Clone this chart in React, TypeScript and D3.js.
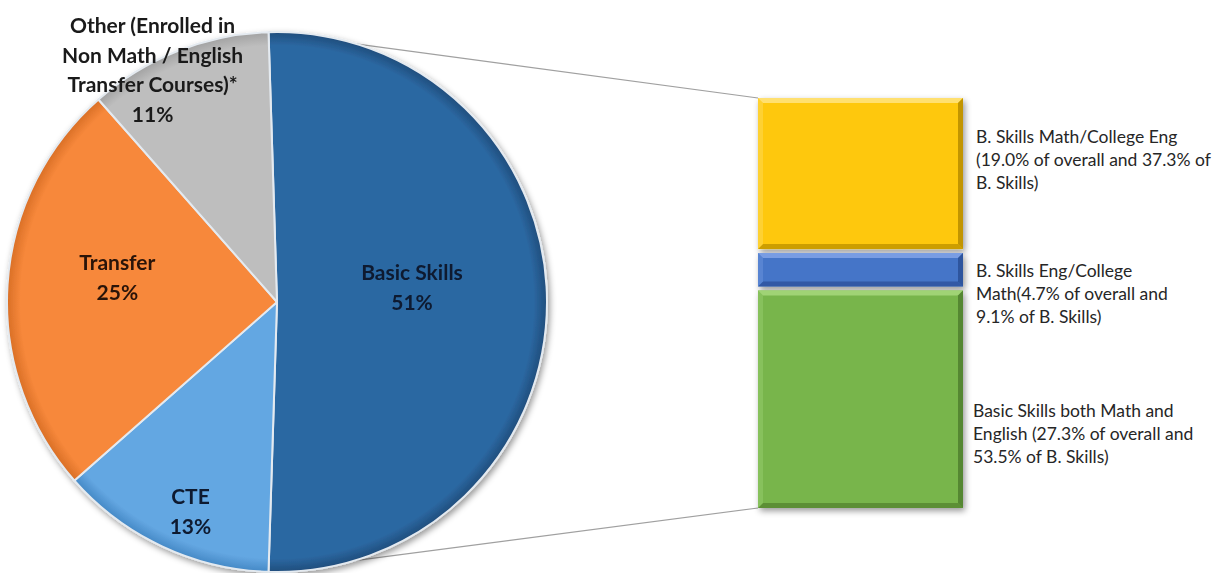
import React from "react";
import * as d3 from "d3";

// ---- data ----
const pieCategories = ["Basic Skills", "CTE", "Transfer", "Other (Enrolled in Non Math / English Transfer Courses)*"];
const pieValues = [51, 13, 25, 11];
const pieLabelLines = [["Basic Skills"], ["CTE"], ["Transfer"], ["Other (Enrolled in", "Non Math / English", "Transfer Courses)*"]];
const barCategories = ["B. Skills Math/College Eng", "B. Skills Eng/College Math", "Basic Skills both Math and English"];
const barShareOfBasic = [37.3, 9.1, 53.5];
const barShareOfOverall = [19.0, 4.7, 27.3];
const barLabelLines = [
  ["B. Skills Math/College Eng", "(19.0% of overall and 37.3% of", "B. Skills)"],
  ["B. Skills Eng/College", "Math(4.7% of overall and", "9.1% of B. Skills)"],
  ["Basic Skills both Math and", "English (27.3% of overall and", "53.5% of B. Skills)"],
];

// ---- styles / layout ----
const W = 1218, H = 573;
const cx = 277, cy = 302, R = 270;
const pieColors = ["#2c68a2", "#64a7e2", "#f7883b", "#bebebe"];
const pieDark = ["#1f4d7c", "#4589c6", "#d96f26", "#a2a2a2"];
const pieLabelColors = ["#0e1a30", "#0e1a30", "#2a1409", "#1a1a1a"];
const labelRadius = [0.5, 0.84, 0.6, 0.99];
const labelDx = [0, 10, 2, -26];
const labelDy = [-14, 5, -14, 17];
const barColors = ["#fec80c", "#4574c8", "#78b54b"];
const barLight = ["#ffe27a", "#7ea2e6", "#a4d67a"];
const barDarkC = ["#b78c00", "#2a4f96", "#4e7f2c"];
const barX0 = 758, barX1 = 963, barY0 = 98, barY1 = 508;
const FONT = "Lato, 'Open Sans', sans-serif";

export default function App() {
  const total = d3.sum(pieValues);
  const half = (pieValues[0] / total) * Math.PI;
  const start = Math.PI / 2 - half;
  const pie = d3.pie<number>().sort(null).value((d) => d).startAngle(start).endAngle(start + 2 * Math.PI);
  const arcs = pie(pieValues);
  const arcGen = d3.arc<d3.PieArcDatum<number>>().innerRadius(0).outerRadius(R);

  const y = d3.scaleLinear().domain([0, d3.sum(barShareOfBasic)]).range([barY0, barY1]);
  let acc = 0;
  const segs = barShareOfBasic.map((v, i) => {
    const s = { i, y0: y(acc), y1: y(acc + v) };
    acc += v;
    return s;
  });
  const gap = 2;

  const bs = arcs[0];
  const pt = (a: number) => [cx + R * Math.sin(a), cy - R * Math.cos(a)];
  const pTop = pt(bs.startAngle);
  const pBot = pt(bs.endAngle);

  const barLabelY = [143, 277, 417];
  const lineH = 23;

  return (
    <svg width={W} height={H} style={{ position: "absolute", left: 0, top: 0, background: "#fff" }} fontFamily={FONT}>
      <defs>
        <filter id="shadow" x="-10%" y="-10%" width="130%" height="130%">
          <feDropShadow dx="2" dy="3" stdDeviation="3" floodColor="#000" floodOpacity="0.4" />
        </filter>
        {pieColors.map((c, i) => (
          <radialGradient key={i} id={`pg${i}`} cx={0} cy={0} r={R} gradientUnits="userSpaceOnUse">
            <stop offset="0" stopColor={c} />
            <stop offset="0.95" stopColor={c} />
            <stop offset="1" stopColor={pieDark[i]} />
          </radialGradient>
        ))}
      </defs>

      {/* connector lines */}
      <line x1={pTop[0]} y1={pTop[1]} x2={barX0} y2={barY0} stroke="#a0a0a0" strokeWidth={1.2} />
      <line x1={pBot[0]} y1={pBot[1]} x2={barX0} y2={barY1} stroke="#a0a0a0" strokeWidth={1.2} />

      {/* pie */}
      <g filter="url(#shadow)">
        {arcs.map((a, i) => (
          <path key={i} d={arcGen(a) as string} transform={`translate(${cx},${cy})`} fill={`url(#pg${i})`} stroke="#e4eaf0" strokeWidth={2} strokeLinejoin="round" />
        ))}
      </g>

      {/* pie labels */}
      {arcs.map((a, i) => {
        const mid = (a.startAngle + a.endAngle) / 2;
        const r = R * labelRadius[i];
        const lx = cx + r * Math.sin(mid) + labelDx[i];
        const ly = cy - r * Math.cos(mid) + labelDy[i];
        const lines = [...pieLabelLines[i], `${pieValues[i]}%`];
        const lh = 29.5;
        const top = ly - ((lines.length - 1) * lh) / 2;
        return (
          <text key={i} textAnchor="middle" fontWeight={700} fontSize={21} fill={pieLabelColors[i]}>
            {lines.map((l, k) => (
              <tspan key={k} x={lx} y={top + k * lh + 7}>{l}</tspan>
            ))}
          </text>
        );
      })}

      {/* bar of pie */}
      <g filter="url(#shadow)">
        {segs.map((s) => {
          const x0 = barX0, x1 = barX1, y0 = s.y0 + (s.i === 0 ? 0 : gap), y1 = s.y1 - (s.i === segs.length - 1 ? 0 : gap);
          const b = Math.min(5, (y1 - y0) / 4);
          return (
            <g key={s.i}>
              <rect x={x0} y={y0} width={x1 - x0} height={y1 - y0} fill={barColors[s.i]} />
              <polygon points={`${x0},${y0} ${x1},${y0} ${x1 - b},${y0 + b} ${x0 + b},${y0 + b}`} fill={barLight[s.i]} opacity={0.9} />
              <polygon points={`${x1},${y0} ${x1},${y1} ${x1 - b},${y1 - b} ${x1 - b},${y0 + b}`} fill={barDarkC[s.i]} opacity={0.85} />
              <polygon points={`${x0},${y1} ${x1},${y1} ${x1 - b},${y1 - b} ${x0 + b},${y1 - b}`} fill={barDarkC[s.i]} opacity={0.7} />
              <polygon points={`${x0},${y0} ${x0 + b},${y0 + b} ${x0 + b},${y1 - b} ${x0},${y1}`} fill={barLight[s.i]} opacity={0.35} />
            </g>
          );
        })}
      </g>

      {/* bar labels */}
      {barLabelLines.map((lines, i) => (
        <text key={i} fontSize={17.5} fill="#262626" data-overall={barShareOfOverall[i]} data-cat={barCategories[i]}>
          {lines.map((l, k) => (
            <tspan key={k} x={i === 2 ? 973 : 976} y={barLabelY[i] + k * lineH}>{l}</tspan>
          ))}
        </text>
      ))}
    </svg>
  );
}
